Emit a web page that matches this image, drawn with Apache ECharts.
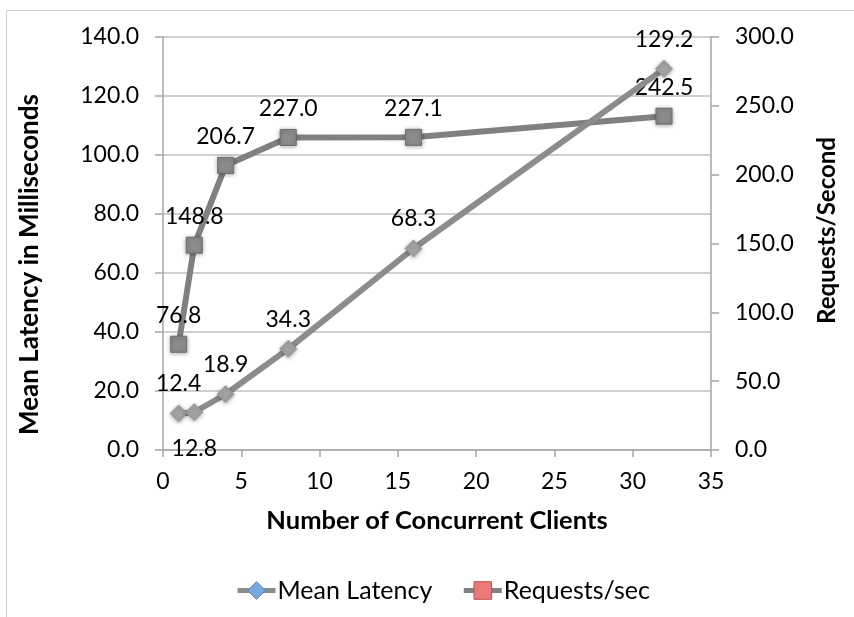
<!DOCTYPE html>
<html>
<head>
<meta charset="utf-8">
<script src="https://cdn.jsdelivr.net/npm/echarts@6/dist/echarts.min.js"></script>
<style>
  html, body { margin: 0; padding: 0; background: #ffffff; }
  #chart { width: 854px; height: 617px; }
</style>
</head>
<body>
<div id="chart"></div>
<script>
// Benchmark results: client concurrency vs. latency and throughput
const clients = [1, 2, 4, 8, 16, 32];
const meanLatency = [12.4, 12.8, 18.9, 34.3, 68.3, 129.2];
const requestsPerSec = [76.8, 148.8, 206.7, 227.0, 227.1, 242.5];

const latencyTicks = { min: 0, max: 140, interval: 20 };
const rpsTicks = { min: 0, max: 300, interval: 50 };
const clientTicks = { min: 0, max: 35, interval: 5 };

const FONT = 'Lato';
const AXIS_GRAY = '#a6a6a6';

const latencyPoints = clients.map((c, i) => {
  const p = { value: [c, meanLatency[i]] };
  if (i === 1) p.label = { position: 'bottom', distance: 16 };
  return p;
});
const rpsPoints = clients.map((c, i) => [c, requestsPerSec[i]]);

const chart = echarts.init(document.getElementById('chart'), null, { renderer: 'canvas' });

const labelStyle = {
  show: true,
  position: 'top',
  distance: 9,
  fontFamily: FONT,
  fontSize: 23,
  color: '#000000',
  formatter: p => p.value[1].toFixed(1)
};

const tickStyle = { fontFamily: FONT, fontSize: 23, color: '#000000' };
const titleStyle = (size, padding) => ({
  fontFamily: FONT, fontSize: size, fontWeight: 'bold', color: '#000000', padding: padding
});

chart.setOption({
  animation: false,
  backgroundColor: '#ffffff',
  graphic: [{
    type: 'rect',
    shape: { x: 6.5, y: 10.5, width: 900, height: 700 },
    style: { fill: 'none', stroke: '#d0d0d0', lineWidth: 1 },
    silent: true,
    z: -10
  }],
  grid: { left: 163, right: 143, top: 37, bottom: 167 },
  legend: {
    top: 573,
    left: 230,
    itemWidth: 38,
    itemHeight: 22,
    itemGap: 29,
    textStyle: { fontFamily: FONT, fontSize: 25, color: '#000000', padding: [0, 0, 0, -3] },
    data: [
      {
        name: 'Mean Latency',
        itemStyle: { color: '#78a8e0', borderColor: '#4f81bd', borderWidth: 1, shadowBlur: 0 },
        lineStyle: { color: '#8c8c8c', width: 5 }
      },
      {
        name: 'Requests/sec',
        itemStyle: { color: '#ea7a78', borderColor: '#c0504d', borderWidth: 1, shadowBlur: 0 },
        lineStyle: { color: '#808080', width: 5 }
      }
    ]
  },
  xAxis: {
    type: 'value',
    min: clientTicks.min,
    max: clientTicks.max,
    interval: clientTicks.interval,
    name: 'Number of Concurrent Clients',
    nameLocation: 'middle',
    nameGap: 58,
    nameTextStyle: titleStyle(25.5, 0),
    axisLine: { show: true, lineStyle: { color: AXIS_GRAY, width: 1.5 } },
    axisTick: { show: true, length: 7, lineStyle: { color: AXIS_GRAY, width: 1.5 } },
    axisLabel: Object.assign({ margin: 20 }, tickStyle),
    splitLine: { show: false }
  },
  yAxis: [
    {
      type: 'value',
      position: 'left',
      min: latencyTicks.min,
      max: latencyTicks.max,
      interval: latencyTicks.interval,
      name: 'Mean Latency in Milliseconds',
      nameLocation: 'middle',
      nameRotate: 90,
      nameGap: 120,
      nameTextStyle: titleStyle(26, [0, 42, 0, 0]),
      axisLine: { show: true, lineStyle: { color: AXIS_GRAY, width: 1.5 } },
      axisTick: { show: true, length: 8, lineStyle: { color: AXIS_GRAY, width: 1.5 } },
      axisLabel: Object.assign({ margin: 24, formatter: v => v.toFixed(1) }, tickStyle),
      splitLine: { show: true, lineStyle: { color: '#bfbfbf', width: 1.5 } }
    },
    {
      type: 'value',
      position: 'right',
      min: rpsTicks.min,
      max: rpsTicks.max,
      interval: rpsTicks.interval,
      name: 'Requests/Second',
      nameLocation: 'middle',
      nameRotate: 90,
      nameGap: 104,
      nameTextStyle: titleStyle(24, [0, 0, 0, 26]),
      axisLine: { show: true, lineStyle: { color: AXIS_GRAY, width: 1.5 } },
      axisTick: { show: true, length: 8, lineStyle: { color: AXIS_GRAY, width: 1.5 } },
      axisLabel: Object.assign({ margin: 24, formatter: v => v.toFixed(1) }, tickStyle),
      splitLine: { show: false }
    }
  ],
  series: [
    {
      name: 'Mean Latency',
      type: 'line',
      yAxisIndex: 0,
      data: latencyPoints,
      symbol: 'diamond',
      symbolSize: 17,
      showAllSymbol: true,
      lineStyle: { color: '#8c8c8c', width: 6 },
      itemStyle: {
        color: '#a3a3a3',
        borderColor: '#999999',
        borderWidth: 1,
        shadowBlur: 4,
        shadowColor: 'rgba(0,0,0,0.3)',
        shadowOffsetY: 1
      },
      label: labelStyle,
      z: 3
    },
    {
      name: 'Requests/sec',
      type: 'line',
      yAxisIndex: 1,
      data: rpsPoints,
      symbol: 'rect',
      symbolSize: 16,
      showAllSymbol: true,
      lineStyle: { color: '#808080', width: 6 },
      itemStyle: {
        color: '#8c8c8c',
        borderColor: '#6f6f6f',
        borderWidth: 1,
        shadowBlur: 4,
        shadowColor: 'rgba(0,0,0,0.35)',
        shadowOffsetY: 1
      },
      label: labelStyle,
      z: 2
    }
  ]
});
</script>
</body>
</html>
